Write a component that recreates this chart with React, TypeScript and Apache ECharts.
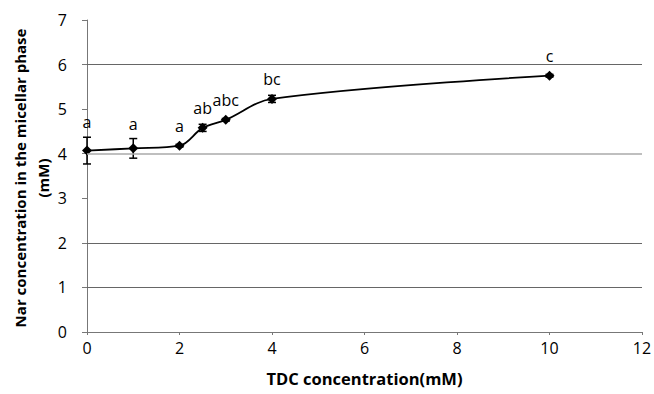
import React, { useEffect, useRef } from "react";
import * as echarts from "echarts";

const xValues = [0, 1, 2, 2.5, 3, 4, 10];
const yValues = [4.07, 4.12, 4.18, 4.58, 4.76, 5.23, 5.75];
const errValues = [0.3, 0.22, 0.03, 0.08, 0.03, 0.08, 0.03];
const letterLabels = ["a", "a", "a", "ab", "abc", "bc", "c"];
const gridValues = [1, 2, 4, 6];
const xTitle = "TDC concentration(mM)";
const yTitle = "Nar concentration in the micellar phase\n(mM)";

const FONT = "'Open Sans', 'DejaVu Sans', sans-serif";

export default function App() {
  const ref = useRef<HTMLDivElement>(null);
  useEffect(() => {
    if (!ref.current) return;
    const chart = echarts.init(ref.current, null, { renderer: "svg" });
    const points = xValues.map((x, i) => [x, yValues[i]]);
    const errData = xValues.map((x, i) => [x, yValues[i], errValues[i], i]);
    chart.setOption({
      animation: false,
      backgroundColor: "#fff",
      grid: { left: 87, right: 12, top: 20, bottom: 62, containLabel: false, outerBoundsMode: "none" },
      graphic: [
        {
          type: "text",
          x: 31,
          y: 178,
          rotation: Math.PI / 2,
          style: {
            text: yTitle,
            fill: "#000",
            font: `bold 15px ${FONT}`,
            align: "center",
            verticalAlign: "middle",
            lineHeight: 23,
          },
        },
      ],
      xAxis: {
        type: "value",
        min: 0,
        max: 12,
        interval: 2,
        name: xTitle,
        nameLocation: "middle",
        nameGap: 38,
        nameTextStyle: { fontFamily: FONT, fontSize: 16.5, fontWeight: "bold", color: "#000" },
        axisLine: { show: true, lineStyle: { color: "#777", width: 1 } },
        axisTick: { show: true, length: 3, lineStyle: { color: "#777" } },
        axisLabel: { fontFamily: FONT, fontSize: 16, color: "#000", margin: 8 },
        splitLine: { show: false },
      },
      yAxis: {
        type: "value",
        min: 0,
        max: 7,
        interval: 1,
        axisLine: { show: true, lineStyle: { color: "#777", width: 1 } },
        axisTick: { show: true, length: 5, lineStyle: { color: "#777" } },
        axisLabel: { fontFamily: FONT, fontSize: 16, color: "#000", margin: 20 },
        splitLine: { show: false },
      },
      series: [
        {
          type: "line",
          data: points,
          smooth: 0.35,
          symbol: "diamond",
          symbolSize: 10,
          itemStyle: { color: "#000" },
          lineStyle: { color: "#000", width: 1.8 },
          z: 3,
          markLine: {
            silent: true,
            symbol: "none",
            label: { show: false },
            lineStyle: { color: "#666", width: 1, type: "solid" },
            data: gridValues.map((v) => ({
              yAxis: v,
              lineStyle: v === 4 ? { color: "#aaa", width: 1.5, type: "solid" } : undefined,
            })),
          },
        },
        {
          type: "custom",
          data: errData,
          z: 4,
          renderItem: (params: any, api: any) => {
            const x = api.value(0);
            const y = api.value(1);
            const e = api.value(2);
            const idx = api.value(3);
            const top = api.coord([x, y + e]);
            const bot = api.coord([x, y - e]);
            const mid = api.coord([x, y]);
            const cap = 4;
            const stroke = { stroke: "#000", lineWidth: 1.5 };
            const labelY = Math.min(top[1], mid[1] - 5) - 15;
            return {
              type: "group",
              children: [
                { type: "line", shape: { x1: top[0], y1: top[1], x2: bot[0], y2: bot[1] }, style: stroke },
                { type: "line", shape: { x1: top[0] - cap, y1: top[1], x2: top[0] + cap, y2: top[1] }, style: stroke },
                { type: "line", shape: { x1: bot[0] - cap, y1: bot[1], x2: bot[0] + cap, y2: bot[1] }, style: stroke },
                {
                  type: "text",
                  x: mid[0],
                  y: labelY,
                  style: {
                    text: letterLabels[idx],
                    fill: "#000",
                    font: `16px ${FONT}`,
                    align: "center",
                    verticalAlign: "middle",
                  },
                },
              ],
            };
          },
        },
      ],
    });
    return () => chart.dispose();
  }, []);
  return <div ref={ref} style={{ width: 654, height: 394, position: "absolute", left: 0, top: 0 }} />;
}
